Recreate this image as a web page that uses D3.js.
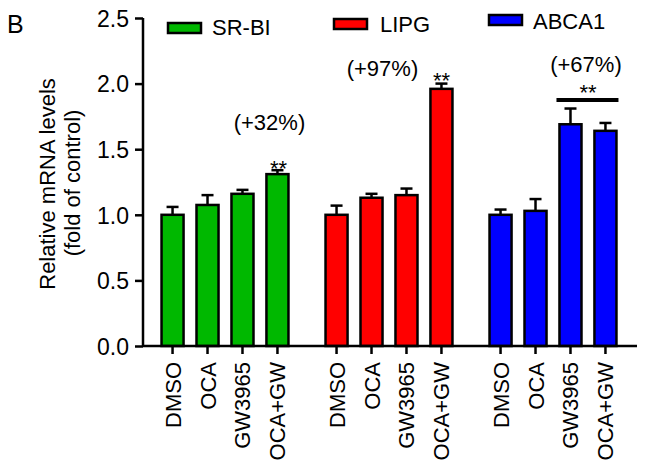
<!DOCTYPE html>
<html><head><meta charset="utf-8">
<script src="https://cdn.jsdelivr.net/npm/d3@7"></script>
<style>
html,body{margin:0;padding:0;background:#fff;}
text{font-family:"Liberation Sans",Arial,Helvetica,sans-serif;fill:#000;}
</style></head>
<body>
<svg id="chart" width="646" height="473"></svg>
<script>
// ---- data ----
const categories = ["DMSO", "OCA", "GW3965", "OCA+GW"];
const genes = ["SR-BI", "LIPG", "ABCA1"];
const srbiMean = [1.00, 1.075, 1.16, 1.31];
const srbiErr  = [0.06, 0.075, 0.03, 0.03];
const lipgMean = [1.00, 1.13, 1.15, 1.96];
const lipgErr  = [0.07, 0.03, 0.05, 0.04];
const abca1Mean = [1.00, 1.03, 1.69, 1.64];
const abca1Err  = [0.04, 0.09, 0.12, 0.06];
const yTicks = [0.0, 0.5, 1.0, 1.5, 2.0, 2.5];
const pctLabels = ["(+32%)", "(+97%)", "(+67%)"];
const colors = ["#00b800", "#ff0000", "#0000ff"];

const means = [srbiMean, lipgMean, abca1Mean];
const errs = [srbiErr, lipgErr, abca1Err];

const svg = d3.select("#chart");
const FS = 22;

const y = d3.scaleLinear().domain([0, 2.5]).range([346, 18]);
const xg = d3.scaleBand().domain(genes).range([143, 635]).paddingInner(0).paddingOuter(0);
const xi = d3.scaleBand().domain(categories).range([0, xg.bandwidth()]).paddingInner(0.37).paddingOuter(0.53);

const rows = [];
genes.forEach((g, gi) => categories.forEach((c, ci) => rows.push({g, gi, c, ci, v: means[gi][ci], e: errs[gi][ci]})));
const bx = d => xg(d.g) + xi(d.c);
const cx = d => bx(d) + xi.bandwidth() / 2;

// error bars (behind bars)
const eb = svg.append("g").attr("stroke", "#000").attr("stroke-width", 2.5);
eb.selectAll("line.v").data(rows).join("line")
  .attr("x1", cx).attr("x2", cx).attr("y1", d => y(d.v)).attr("y2", d => y(d.v + d.e));
eb.selectAll("line.c").data(rows).join("line")
  .attr("x1", d => cx(d) - 6).attr("x2", d => cx(d) + 6).attr("y1", d => y(d.v + d.e)).attr("y2", d => y(d.v + d.e));

// bars
svg.append("g").selectAll("rect").data(rows).join("rect")
  .attr("x", bx).attr("width", xi.bandwidth())
  .attr("y", d => y(d.v)).attr("height", d => y(0) - y(d.v))
  .attr("fill", d => colors[d.gi]).attr("stroke", "#000").attr("stroke-width", 2.5);

// y axis
const ya = svg.append("g").attr("transform", "translate(143,0)")
  .call(d3.axisLeft(y).tickValues(yTicks).tickFormat(d3.format(".1f")).tickSize(8).tickPadding(6));
ya.select(".domain").attr("d", `M0,${y(2.5)}V${y(0)}`).attr("stroke-width", 2.5);
ya.selectAll(".tick line").attr("stroke-width", 2.5);
ya.selectAll(".tick text").attr("font-size", 23).attr("font-family", null).attr("dy", "0.36em");

// x axis
const xa = svg.append("g").attr("stroke", "#000");
xa.append("line").attr("x1", 143).attr("x2", 637).attr("y1", y(0)).attr("y2", y(0)).attr("stroke-width", 2.5);
xa.selectAll("line.t").data(rows).join("line")
  .attr("x1", cx).attr("x2", cx).attr("y1", y(0)).attr("y2", y(0) + 8).attr("stroke-width", 2.5);
svg.append("g").selectAll("text").data(rows).join("text")
  .attr("transform", d => `translate(${cx(d) + 8},${y(0) + 16}) rotate(-90)`)
  .attr("text-anchor", "end").attr("font-size", FS).text(d => d.c);

// y label
svg.append("text").attr("transform", "translate(55,184) rotate(-90)")
  .attr("text-anchor", "middle").attr("font-size", FS).text("Relative mRNA levels");
svg.append("text").attr("transform", "translate(80,183) rotate(-90)")
  .attr("text-anchor", "middle").attr("font-size", FS).text("(fold of control)");

// panel letter
svg.append("text").attr("x", 7).attr("y", 33).attr("font-size", 25).text("B");

// legend
const legPos = [[168, 23, 212, 35], [334, 19, 380, 32], [489, 15, 533, 29]];
genes.forEach((g, i) => {
  const [sx, sy, tx, ty] = legPos[i];
  svg.append("rect").attr("x", sx).attr("y", sy).attr("width", 33).attr("height", 10)
    .attr("fill", colors[i]).attr("stroke", "#000").attr("stroke-width", 2.5);
  svg.append("text").attr("x", tx).attr("y", ty).attr("font-size", FS).text(g);
});

// annotations
const last = gi => rows.find(r => r.gi === gi && r.ci === 3);
const third = gi => rows.find(r => r.gi === gi && r.ci === 2);
svg.append("text").attr("x", cx(last(0)) - 8).attr("y", 130).attr("text-anchor", "middle").attr("font-size", FS).text(pctLabels[0]);
svg.append("text").attr("x", cx(last(1)) - 59).attr("y", 76).attr("text-anchor", "middle").attr("font-size", FS).text(pctLabels[1]);
svg.append("text").attr("x", (cx(third(2)) + cx(last(2))) / 2 - 2).attr("y", 72).attr("text-anchor", "middle").attr("font-size", FS).text(pctLabels[2]);

svg.append("text").attr("x", cx(last(0)) + 1).attr("y", 176).attr("text-anchor", "middle").attr("font-size", FS).text("**");
svg.append("text").attr("x", cx(last(1))).attr("y", 88).attr("text-anchor", "middle").attr("font-size", FS).text("**");
svg.append("text").attr("x", (cx(third(2)) + cx(last(2))) / 2).attr("y", 100).attr("text-anchor", "middle").attr("font-size", FS).text("**");
svg.append("line").attr("x1", bx(third(2)) - 3).attr("x2", bx(last(2)) + xi.bandwidth() + 2)
  .attr("y1", 100).attr("y2", 100).attr("stroke", "#000").attr("stroke-width", 4);
</script>
</body></html>
